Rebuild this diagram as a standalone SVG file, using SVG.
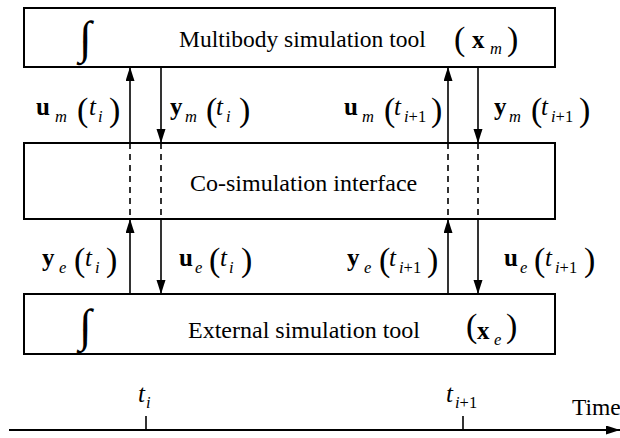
<svg xmlns="http://www.w3.org/2000/svg" width="620" height="438" viewBox="0 0 620 438">
<defs>
<marker id="ah" markerUnits="userSpaceOnUse" markerWidth="14" markerHeight="10" refX="14" refY="4.5" orient="auto">
<path d="M0,0 L14,4.5 L0,9 z" fill="#000"/>
</marker>
<style>
text{font-family:"Liberation Serif","Times New Roman",serif;font-size:23.5px;fill:#000}
.t{font-size:24px}
.b{font-weight:bold;font-size:25px}
.i{font-style:italic;font-size:25px}
.s{font-size:16.5px}
.p{font-size:34px}
.box{fill:#fff;stroke:#000;stroke-width:2}
.ar{stroke:#000;stroke-width:1.6;fill:none;marker-end:url(#ah)}
.da{stroke:#000;stroke-width:1.6;stroke-dasharray:6,5;fill:none}
.int{font-size:46px}
</style>
</defs>
<rect width="620" height="438" fill="#fff"/>

<g id="multibody">
<rect class="box" x="24" y="8" width="531" height="59"/>
<text class="int" x="79" y="53">∫</text>
<text x="179" y="47">Multibody simulation tool</text>
<text y="47"><tspan class="p" x="454" y="50">(</tspan><tspan class="b" x="472" y="48">x</tspan><tspan class="i s" x="490" y="54">m</tspan><tspan class="p" x="507" y="50">)</tspan></text>
</g>

<g id="interface">
<rect class="box" x="24" y="143" width="531" height="76"/>
<text class="t" x="190" y="191">Co-simulation interface</text>
</g>

<g id="external">
<rect class="box" x="24" y="294" width="531" height="60"/>
<text class="int" x="79" y="341">∫</text>
<text class="t" x="188" y="338">External simulation tool</text>
<text y="338"><tspan class="p" x="466" y="337">(</tspan><tspan class="b" x="477" y="339">x</tspan><tspan class="i s" x="494" y="345">e</tspan><tspan class="p" x="506" y="337">)</tspan></text>
</g>

<g id="connectors">
<line class="ar" x1="130" y1="143" x2="130" y2="67"/>
<line class="ar" x1="161" y1="67" x2="161" y2="143"/>
<line class="ar" x1="448" y1="143" x2="448" y2="67"/>
<line class="ar" x1="478" y1="67" x2="478" y2="143"/>
<line class="da" x1="130" y1="143" x2="130" y2="219"/>
<line class="da" x1="161" y1="143" x2="161" y2="219"/>
<line class="da" x1="448" y1="143" x2="448" y2="219"/>
<line class="da" x1="478" y1="143" x2="478" y2="219"/>
<line class="ar" x1="130" y1="294" x2="130" y2="219"/>
<line class="ar" x1="161" y1="219" x2="161" y2="294"/>
<line class="ar" x1="448" y1="294" x2="448" y2="219"/>
<line class="ar" x1="478" y1="219" x2="478" y2="294"/>
</g>

<g id="labels">
<text><tspan class="b" x="36" y="115">u</tspan><tspan class="i s" x="55" y="122">m</tspan><tspan class="p" x="77" y="120.5">(</tspan><tspan class="i" x="89" y="115">t</tspan><tspan class="i s" x="98" y="122">i</tspan><tspan class="p" x="109" y="120.5">)</tspan></text>
<text><tspan class="b" x="170" y="115">y</tspan><tspan class="i s" x="185" y="122">m</tspan><tspan class="p" x="206" y="120.5">(</tspan><tspan class="i" x="216" y="115">t</tspan><tspan class="i s" x="226" y="122">i</tspan><tspan class="p" x="239" y="120.5">)</tspan></text>
<text><tspan class="b" x="344" y="115">u</tspan><tspan class="i s" x="362" y="122">m</tspan><tspan class="p" x="384" y="120.5">(</tspan><tspan class="i" x="394" y="115">t</tspan><tspan class="i s" x="404" y="122">i</tspan><tspan class="s">+1</tspan><tspan class="p" x="431" y="120.5">)</tspan></text>
<text><tspan class="b" x="494" y="115">y</tspan><tspan class="i s" x="509" y="122">m</tspan><tspan class="p" x="531" y="120.5">(</tspan><tspan class="i" x="541" y="115">t</tspan><tspan class="i s" x="551" y="122">i</tspan><tspan class="s">+1</tspan><tspan class="p" x="579" y="120.5">)</tspan></text>

<text><tspan class="b" x="42" y="266">y</tspan><tspan class="i s" x="59" y="273">e</tspan><tspan class="p" x="74" y="271">(</tspan><tspan class="i" x="85" y="266">t</tspan><tspan class="i s" x="95" y="273">i</tspan><tspan class="p" x="106" y="271">)</tspan></text>
<text><tspan class="b" x="179" y="266">u</tspan><tspan class="i s" x="195" y="273">e</tspan><tspan class="p" x="209" y="271">(</tspan><tspan class="i" x="220" y="266">t</tspan><tspan class="i s" x="229" y="273">i</tspan><tspan class="p" x="241" y="271">)</tspan></text>
<text><tspan class="b" x="347" y="266">y</tspan><tspan class="i s" x="364" y="273">e</tspan><tspan class="p" x="379" y="271">(</tspan><tspan class="i" x="389" y="266">t</tspan><tspan class="i s" x="399" y="273">i</tspan><tspan class="s">+1</tspan><tspan class="p" x="427" y="271">)</tspan></text>
<text><tspan class="b" x="504" y="266">u</tspan><tspan class="i s" x="520" y="273">e</tspan><tspan class="p" x="534" y="271">(</tspan><tspan class="i" x="545" y="266">t</tspan><tspan class="i s" x="555" y="273">i</tspan><tspan class="s">+1</tspan><tspan class="p" x="584" y="271">)</tspan></text>
</g>

<g id="timeline">
<line x1="9" y1="430" x2="620" y2="430" stroke="#000" stroke-width="2" marker-end="url(#ah)"/>
<line x1="146" y1="416" x2="146" y2="430" stroke="#000" stroke-width="1.6"/>
<line x1="463" y1="416" x2="463" y2="430" stroke="#000" stroke-width="1.6"/>
<text><tspan class="i" x="138" y="402">t</tspan><tspan class="i s" x="146" y="408">i</tspan></text>
<text><tspan class="i" x="446" y="402">t</tspan><tspan class="i s" x="455" y="408">i</tspan><tspan class="s">+1</tspan></text>
<text x="572" y="415">Time</text>
</g>
</svg>
